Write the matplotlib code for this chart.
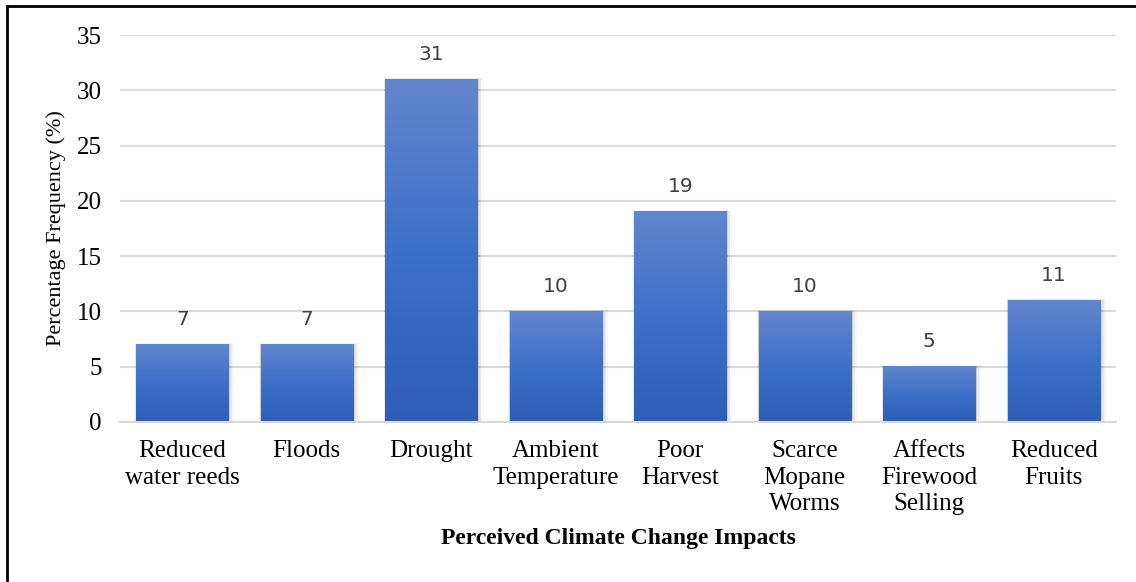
import numpy as np
import matplotlib
matplotlib.use('Agg')
import matplotlib.pyplot as plt
from matplotlib.colors import LinearSegmentedColormap
from matplotlib.patches import Rectangle

# ── Data ──────────────────────────────────────────────────────────────────────

categories = [
    'Reduced\nwater reeds', 'Floods', 'Drought', 'Ambient\nTemperature',
    'Poor\nHarvest', 'Scarce\nMopane\nWorms', 'Affects\nFirewood\nSelling',
    'Reduced\nFruits',
]
values = [7, 7, 31, 10, 19, 10, 5, 11]
yticks = [0, 5, 10, 15, 20, 25, 30, 35]

SERIF = ['Liberation Serif', 'DejaVu Serif']
GRID = '#d9d9d9'
BAR_WIDTH = 0.74

# light at the top of each bar, darker toward the base
bar_cmap = LinearSegmentedColormap.from_list(
    'bar_grad', ['#2e5eb5', '#3d70c8', '#6286cd'])

fig = plt.figure(figsize=(11.36, 5.82), dpi=100)
ax = fig.add_axes([120 / 1136, 1 - 422 / 582, 996 / 1136, 387 / 582])

x = np.arange(len(categories))

grad = np.linspace(0, 1, 256).reshape(-1, 1)
for xi, v in zip(x, values):
    left = xi - BAR_WIDTH / 2
    # soft drop shadow
    for k, a in enumerate([0.10, 0.06, 0.03]):
        off = 0.012 * (k + 1)
        ax.add_patch(Rectangle((left - off * 0.3, 0), BAR_WIDTH + off * 1.6,
                               v + off * 4, facecolor='black', alpha=a,
                               lw=0, zorder=1))
    ax.imshow(grad, extent=(left, left + BAR_WIDTH, 0, v), origin='lower',
              cmap=bar_cmap, aspect='auto', zorder=2)
    ax.text(xi, v + 1.4, f'{v}', ha='center', va='bottom', fontsize=14.5,
            color='#404040', family='DejaVu Sans', zorder=3)

ax.set_xlim(-0.5, len(categories) - 0.5)
ax.set_ylim(0, 35)

ax.set_yticks(yticks)
ax.set_yticklabels([str(t) for t in yticks], family=SERIF, fontsize=18)
ax.set_xticks(x)
ax.set_xticklabels(categories, family=SERIF, fontsize=18, linespacing=1.27)
ax.tick_params(axis='both', length=0, colors='black')
ax.tick_params(axis='y', pad=13)
ax.tick_params(axis='x', pad=13)

ax.grid(axis='y', color=GRID, lw=1.5, zorder=0)
ax.set_axisbelow(True)
for side in ('top', 'right', 'left'):
    ax.spines[side].set_visible(False)
ax.spines['bottom'].set_color(GRID)
ax.spines['bottom'].set_linewidth(1.5)

ax.set_ylabel('Percentage Frequency (%)', family=SERIF, fontsize=16,
              labelpad=8)
ax.set_xlabel('Perceived Climate Change Impacts', family=SERIF, fontsize=17,
              fontweight='bold', labelpad=9)

# outer frame (left and top edges)
fig.add_artist(plt.Line2D([6.5 / 1136, 6.5 / 1136], [0, 1 - 6 / 582],
                          color='black', lw=2, transform=fig.transFigure))
fig.add_artist(plt.Line2D([6.5 / 1136, 1], [1 - 6 / 582, 1 - 6 / 582],
                          color='black', lw=2, transform=fig.transFigure))

fig.savefig('out.png', dpi=100)
